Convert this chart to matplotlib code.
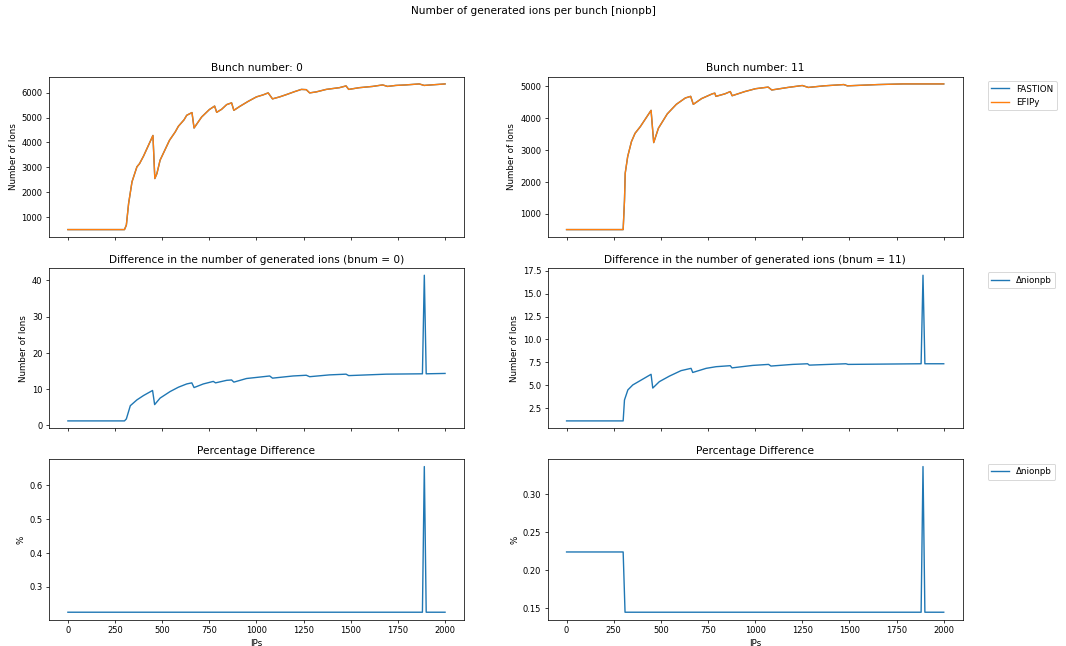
"""
Comparison of generated ions per bunch between FASTION and EFIPy.
"""

import matplotlib.pyplot as plt
from matplotlib.ticker import MultipleLocator

# Bunch 0: number of ions along the IPs
ips_b0 = [0, 300, 310, 322, 340, 366, 380, 401, 451, 461, 472, 489, 539, 569,
          586, 616, 630, 658, 669, 709, 750, 778, 789, 815, 842, 868, 880,
          912, 956, 1000, 1035, 1062, 1085, 1123, 1158, 1202, 1238, 1264,
          1282, 1317, 1370, 1440, 1475, 1489, 1546, 1616, 1669, 1695, 1739,
          1792, 1863, 1889, 2000]
ions_b0 = [500, 500, 680, 1550, 2420, 3020, 3150, 3450, 4280, 2550, 2750,
           3290, 4090, 4420, 4650, 4910, 5090, 5200, 4580, 5020, 5320, 5460,
           5210, 5330, 5520, 5590, 5290, 5450, 5650, 5830, 5910, 5990, 5750,
           5830, 5920, 6040, 6130, 6120, 5990, 6030, 6130, 6200, 6270, 6130,
           6200, 6250, 6310, 6250, 6290, 6310, 6350, 6290, 6350]

# Bunch 11: number of ions along the IPs
ips_b11 = [0, 300, 307, 311, 324, 344, 363, 391, 448, 462, 487, 534, 582,
           630, 658, 672, 716, 773, 786, 792, 840, 868, 878, 945, 1002, 1069,
           1088, 1174, 1250, 1282, 1365, 1470, 1489, 1651, 1784, 2000]
ions_b11 = [500, 500, 1400, 2270, 2790, 3260, 3520, 3730, 4240, 3230, 3680,
            4130, 4430, 4630, 4680, 4430, 4610, 4760, 4780, 4680, 4760, 4830,
            4700, 4830, 4920, 4970, 4880, 4960, 5020, 4960, 5010, 5050, 5010,
            5050, 5070, 5070]

# Difference FASTION - EFIPy
diff_ips_b0 = [0, 300, 310, 331, 366, 401, 449, 460, 489, 542, 586, 630, 657,
               669, 718, 771, 783, 842, 868, 880, 947, 1018, 1070, 1085, 1194,
               1264, 1282, 1387, 1475, 1489, 1687, 1880, 1890, 1900, 2000]
diff_b0 = [1.2, 1.2, 1.75, 5.4, 7.0, 8.2, 9.6, 5.7, 7.5, 9.3, 10.5, 11.4,
           11.7, 10.4, 11.4, 12.1, 11.7, 12.4, 12.5, 11.9, 12.9, 13.3, 13.6,
           13.0, 13.6, 13.8, 13.4, 13.9, 14.1, 13.7, 14.1, 14.2, 41.4, 14.2,
           14.3]

diff_ips_b11 = [0, 300, 307, 325, 351, 387, 448, 457, 492, 545, 607, 660, 669,
                740, 793, 868, 877, 987, 1071, 1084, 1199, 1278, 1287, 1481,
                1493, 1880, 1890, 1900, 2000]
diff_b11 = [1.12, 1.12, 3.4, 4.5, 5.04, 5.47, 6.2, 4.7, 5.4, 6.0, 6.6, 6.85,
            6.4, 6.85, 7.03, 7.14, 6.9, 7.17, 7.28, 7.1, 7.28, 7.35, 7.2,
            7.35, 7.28, 7.35, 17.0, 7.35, 7.35]

# Percentage difference
pct_ips_b0 = [0, 1880, 1890, 1900, 2000]
pct_b0 = [0.224, 0.224, 0.655, 0.224, 0.224]

pct_ips_b11 = [0, 300, 310, 1880, 1890, 1900, 2000]
pct_b11 = [0.224, 0.224, 0.145, 0.145, 0.336, 0.145, 0.145]

bunches = [0, 11]

# y tick steps per panel: (ions, difference, percentage)
tick_steps = [(1000, 10, 0.1), (1000, 2.5, 0.05)]

plt.rcParams["font.size"] = 9.5
plt.rcParams["xtick.labelsize"] = 9
plt.rcParams["ytick.labelsize"] = 9

fig, axes = plt.subplots(3, 2, figsize=(16, 9.7), dpi=66.625, sharex=True)
fig.subplots_adjust(left=0.046, right=0.903, top=0.881, bottom=0.041,
                    hspace=0.194, wspace=0.202)
fig.suptitle("Number of generated ions per bunch [nionpb]", y=0.99)

columns = [
    (ips_b0, ions_b0, diff_ips_b0, diff_b0, pct_ips_b0, pct_b0),
    (ips_b11, ions_b11, diff_ips_b11, diff_b11, pct_ips_b11, pct_b11),
]

for col, (bnum, data) in enumerate(zip(bunches, columns)):
    ips, ions, d_ips, diff, p_ips, pct = data

    ax = axes[0, col]
    ax.plot(ips, ions, label="FASTION")
    ax.plot(ips, ions, label="EFIPy")
    ax.set_title(f"Bunch number: {bnum}")
    ax.set_ylabel("Number of Ions")

    ax = axes[1, col]
    ax.plot(d_ips, diff, label="\u0394nionpb")
    ax.set_title(f"Difference in the number of generated ions (bnum = {bnum})")
    ax.set_ylabel("Number of Ions")

    ax = axes[2, col]
    ax.plot(p_ips, pct, label="\u0394nionpb")
    ax.set_title("Percentage Difference")
    ax.set_ylabel("%")
    ax.set_xlabel("IPs")

    for row in range(3):
        axes[row, col].yaxis.set_major_locator(
            MultipleLocator(tick_steps[col][row]))

axes[2, 0].xaxis.set_major_locator(MultipleLocator(250))

for row in range(3):
    axes[row, 1].legend(bbox_to_anchor=(1.05, 1), loc="upper left")

fig.savefig("out.png", dpi=66.625)
plt.close(fig)
